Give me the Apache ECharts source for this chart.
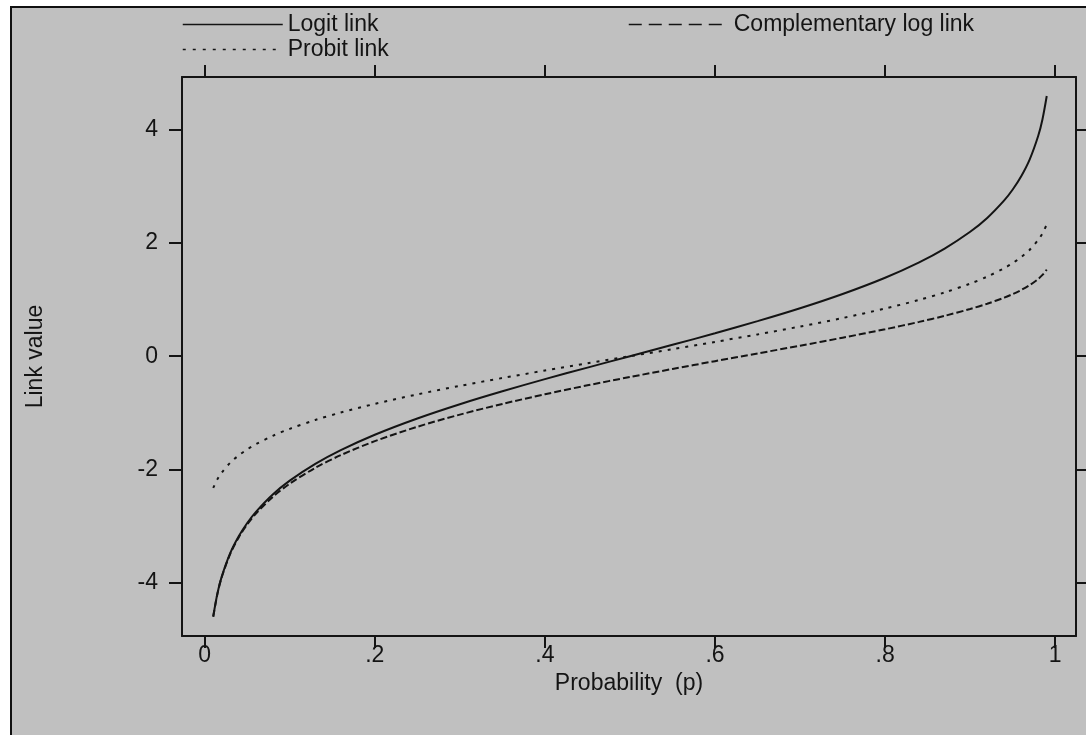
<!DOCTYPE html>
<html>
<head>
<meta charset="utf-8">
<title>Link functions</title>
<script src="https://cdn.jsdelivr.net/npm/echarts@6/dist/echarts.min.js"></script>
<style>
    html, body { margin: 0; padding: 0; background: #fff; }
    #main { width: 1086px; height: 735px; }
</style>
</head>
<body>
<div id="main"></div>
<script>
// probability p
var prob = [0.01, 0.015, 0.02, 0.03, 0.04, 0.05, 0.06, 0.08, 0.10, 0.13, 0.16, 0.20, 0.25, 0.30, 0.35, 0.40, 0.45, 0.50,
    0.55, 0.60, 0.65, 0.70, 0.75, 0.80, 0.84, 0.87, 0.90, 0.92, 0.94, 0.95, 0.96, 0.97, 0.98, 0.985, 0.99];
// logit link
var logitVal = [-4.595, -4.185, -3.892, -3.476, -3.178, -2.944, -2.752, -2.442, -2.197, -1.901, -1.658, -1.386, -1.099, -0.847, -0.619, -0.405, -0.201, 0,
    0.201, 0.405, 0.619, 0.847, 1.099, 1.386, 1.658, 1.901, 2.197, 2.442, 2.752, 2.944, 3.178, 3.476, 3.892, 4.185, 4.595];
// probit link
var probitVal = [-2.326, -2.170, -2.054, -1.881, -1.751, -1.645, -1.555, -1.405, -1.282, -1.126, -0.994, -0.842, -0.674, -0.524, -0.385, -0.253, -0.126, 0,
    0.126, 0.253, 0.385, 0.524, 0.674, 0.842, 0.994, 1.126, 1.282, 1.405, 1.555, 1.645, 1.751, 1.881, 2.054, 2.170, 2.326];
// complementary log link
var cloglogVal = [-4.600, -4.192, -3.902, -3.491, -3.199, -2.970, -2.783, -2.484, -2.250, -1.971, -1.747, -1.500, -1.246, -1.031, -0.842, -0.672, -0.514, -0.367,
    -0.225, -0.087, 0.049, 0.186, 0.327, 0.476, 0.606, 0.713, 0.834, 0.927, 1.034, 1.097, 1.169, 1.255, 1.364, 1.435, 1.527];

var xTicks = [0, 0.2, 0.4, 0.6, 0.8, 1];
var yTicks = [-4, -2, 0, 2, 4];

function pairs(ys) {
    var out = [];
    for (var i = 0; i < prob.length; i++) {
        out.push([prob[i], ys[i]]);
    }
    return out;
}

var font = "'Liberation Sans', Arial, sans-serif";
var ink = '#141414';

var mychart = echarts.init(document.getElementById('main'));
var option = {
    animation: false,
    backgroundColor: '#fff',
    textStyle: { fontFamily: font },
    graphic: [{
        type: 'rect',
        z: -10,
        silent: true,
        shape: { x: 11, y: 7, width: 1200, height: 900 },
        style: { fill: '#c0c0c0', stroke: '#111', lineWidth: 2 }
    }],
    legend: [{
        orient: 'vertical',
        left: 182,
        top: 13,
        padding: 0,
        itemWidth: 100,
        itemHeight: 14,
        itemGap: 2,
        itemStyle: { opacity: 0 },
        textStyle: { fontSize: 23, color: ink, fontFamily: font, lineHeight: 23 },
        data: [
            { name: 'Logit link', itemStyle: { opacity: 0 }, lineStyle: { type: 'solid', width: 1.5, color: ink } },
            { name: 'Probit link', itemStyle: { opacity: 0 }, lineStyle: { type: [3, 7], width: 1.5, color: ink } }
        ]
    }, {
        orient: 'vertical',
        left: 628,
        top: 13,
        padding: 0,
        itemWidth: 100,
        itemHeight: 14,
        itemStyle: { opacity: 0 },
        textStyle: { fontSize: 23, color: ink, fontFamily: font, lineHeight: 23 },
        data: [
            { name: 'Complementary log link', itemStyle: { opacity: 0 }, lineStyle: { type: [13, 7], width: 1.5, color: ink } }
        ]
    }],
    grid: {
        left: 182,
        top: 77,
        width: 894,
        height: 559,
        outerBoundsMode: 'none',
        containLabel: false
    },
    xAxis: [{
        type: 'value',
        min: -0.0267,
        max: 1.0244,
        position: 'bottom',
        name: 'Probability  (p)',
        nameLocation: 'middle',
        nameGap: 32,
        nameTextStyle: { fontSize: 23, color: ink, fontFamily: font },
        axisLine: { show: true, onZero: false, lineStyle: { color: ink, width: 2 } },
        axisTick: { show: true, length: 12, customValues: xTicks, lineStyle: { color: ink, width: 2 } },
        axisLabel: {
            show: true, margin: 8, fontSize: 23, color: ink, fontFamily: font,
            customValues: xTicks,
            formatter: function (v) {
                if (v === 0) return '0';
                if (v === 1) return '1';
                return String(+v.toFixed(1)).replace('0.', '.');
            }
        },
        splitLine: { show: false }
    }, {
        type: 'value',
        min: -0.0267,
        max: 1.0244,
        position: 'top',
        axisLine: { show: true, onZero: false, lineStyle: { color: ink, width: 2 } },
        axisTick: { show: true, length: 12, customValues: xTicks, lineStyle: { color: ink, width: 2 } },
        axisLabel: { show: false },
        splitLine: { show: false }
    }],
    yAxis: [{
        type: 'value',
        min: -4.94,
        max: 4.93,
        position: 'left',
        name: 'Link value',
        nameLocation: 'middle',
        nameGap: 135,
        nameTextStyle: { fontSize: 23, color: ink, fontFamily: font },
        axisLine: { show: true, onZero: false, lineStyle: { color: ink, width: 2 } },
        axisTick: { show: true, length: 13, customValues: yTicks, lineStyle: { color: ink, width: 2 } },
        axisLabel: { show: true, margin: 24, fontSize: 23, color: ink, fontFamily: font, customValues: yTicks },
        splitLine: { show: false }
    }, {
        type: 'value',
        min: -4.94,
        max: 4.93,
        position: 'right',
        axisLine: { show: true, onZero: false, lineStyle: { color: ink, width: 2 } },
        axisTick: { show: true, length: 12, customValues: yTicks, lineStyle: { color: ink, width: 2 } },
        axisLabel: { show: false },
        splitLine: { show: false }
    }],
    series: [{
        name: 'Logit link',
        type: 'line',
        symbol: 'none',
        smooth: 0.3,
        lineStyle: { color: ink, width: 2, type: 'solid' },
        itemStyle: { color: ink },
        data: pairs(logitVal)
    }, {
        name: 'Probit link',
        type: 'line',
        symbol: 'none',
        smooth: 0.3,
        lineStyle: { color: ink, width: 2, type: [3, 6] },
        itemStyle: { color: ink },
        data: pairs(probitVal)
    }, {
        name: 'Complementary log link',
        type: 'line',
        symbol: 'none',
        smooth: 0.3,
        lineStyle: { color: ink, width: 2, type: [7, 3] },
        itemStyle: { color: ink },
        data: pairs(cloglogVal)
    }]
};
mychart.setOption(option, true);
</script>
</body>
</html>
